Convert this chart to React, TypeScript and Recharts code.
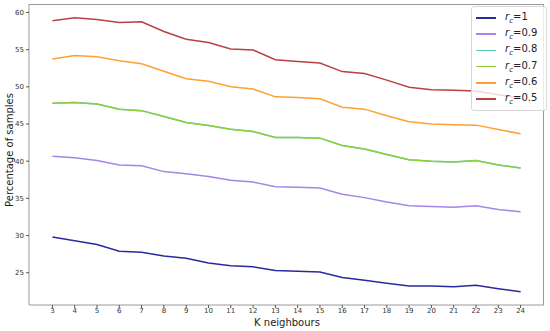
import { LineChart, Line, XAxis, YAxis } from 'recharts';

// K neighbours on the x axis
const kValues = [3, 4, 5, 6, 7, 8, 9, 10, 11, 12, 13, 14, 15, 16, 17, 18, 19, 20, 21, 22, 23, 24];

const rc1 = [29.8, 29.3, 28.8, 27.9, 27.75, 27.25, 26.95, 26.3, 25.95, 25.8, 25.3, 25.2, 25.1, 24.35, 24.0, 23.6, 23.2, 23.2, 23.1, 23.3, 22.85, 22.45];
const rc09 = [40.65, 40.45, 40.1, 39.5, 39.4, 38.6, 38.3, 37.95, 37.45, 37.2, 36.55, 36.5, 36.4, 35.55, 35.1, 34.5, 34.0, 33.9, 33.8, 34.0, 33.5, 33.2];
const rc08 = [47.8, 47.9, 47.7, 47.0, 46.8, 46.0, 45.2, 44.8, 44.3, 44.0, 43.2, 43.2, 43.1, 42.1, 41.65, 40.9, 40.2, 40.0, 39.9, 40.1, 39.5, 39.1];
const rc07 = [47.8, 47.9, 47.7, 47.0, 46.8, 46.0, 45.2, 44.8, 44.3, 44.0, 43.2, 43.2, 43.1, 42.1, 41.65, 40.9, 40.2, 40.0, 39.9, 40.1, 39.5, 39.1];
const rc06 = [53.75, 54.2, 54.05, 53.5, 53.1, 52.1, 51.1, 50.75, 50.0, 49.7, 48.65, 48.55, 48.4, 47.25, 47.0, 46.1, 45.3, 45.0, 44.9, 44.85, 44.25, 43.7];
const rc05 = [58.9, 59.3, 59.05, 58.65, 58.75, 57.45, 56.4, 55.95, 55.1, 54.95, 53.65, 53.4, 53.2, 52.05, 51.8, 50.9, 49.95, 49.6, 49.55, 49.45, 48.95, 48.5];

const xTicks = kValues;
const yTicks = [25, 30, 35, 40, 45, 50, 55, 60];

const seriesMeta = [
  { key: 'rc1', label: '1', color: '#2a2a9c', values: rc1 },
  { key: 'rc09', label: '0.9', color: '#a585ea', values: rc09 },
  { key: 'rc08', label: '0.8', color: '#5ccdc6', values: rc08 },
  { key: 'rc07', label: '0.7', color: '#8fcf3c', values: rc07 },
  { key: 'rc06', label: '0.6', color: '#ffa032', values: rc06 },
  { key: 'rc05', label: '0.5', color: '#b9413f', values: rc05 },
];

const data = kValues.map((k, i) => {
  const row: Record<string, number> = { k };
  seriesMeta.forEach((s) => {
    row[s.key] = s.values[i];
  });
  return row;
});

const font = 'DejaVu Sans, sans-serif';
const frame = '#9a9a9a';

function LegendBox() {
  return (
    <div
      style={{
        position: 'absolute',
        left: 471,
        top: 6,
        width: 74,
        padding: '3px 0',
        background: 'rgba(255,255,255,0.8)',
        border: '1px solid #d8d8d8',
        borderRadius: 3,
        fontFamily: font,
        fontSize: 10,
        color: '#222',
      }}
    >
      {seriesMeta.map((s) => (
        <div key={s.key} style={{ display: 'flex', alignItems: 'center', height: 16.2 }}>
          <span style={{ display: 'inline-block', width: 20, height: 1.6, background: s.color, marginLeft: 4, marginRight: 9 }} />
          <span>
            <i>r</i>
            <sub style={{ fontSize: 7, fontStyle: 'italic' }}>c</sub>
            {'='}
            {s.label}
          </span>
        </div>
      ))}
    </div>
  );
}

export default function App() {
  return (
    <div style={{ position: 'absolute', left: 0, top: 0, width: 550, height: 331, background: '#fff' }}>
      <LineChart width={550} height={331} data={data} margin={{ top: 4, right: 6, bottom: 0, left: 8 }}>
        <XAxis
          dataKey="k"
          type="number"
          domain={[1.95, 25.05]}
          ticks={xTicks}
          allowDataOverflow
          height={26}
          tick={{ fill: '#333', fontSize: 7, fontFamily: font, dy: -2 }}
          tickLine={{ stroke: '#555' }}
          tickSize={3}
          axisLine={{ stroke: frame }}
          interval={0}
        />
        <YAxis
          type="number"
          domain={[20.66, 61.14]}
          ticks={yTicks}
          allowDataOverflow
          width={21}
          tick={{ fill: '#333', fontSize: 7, fontFamily: font }}
          tickLine={{ stroke: '#555' }}
          tickSize={3}
          axisLine={{ stroke: frame }}
          interval={0}
        />
        {seriesMeta.map((s) => (
          <Line
            key={s.key}
            type="linear"
            dataKey={s.key}
            stroke={s.color}
            strokeWidth={1.5}
            dot={false}
            isAnimationActive={false}
          />
        ))}
      </LineChart>
      {/* top and right spines */}
      <div
        style={{
          position: 'absolute',
          left: 29,
          top: 4,
          width: 515,
          height: 301,
          borderTop: `1px solid ${frame}`,
          borderRight: `1px solid ${frame}`,
          boxSizing: 'border-box',
          pointerEvents: 'none',
        }}
      />
      <LegendBox />
      <div
        style={{
          position: 'absolute',
          left: 9,
          top: 150,
          transform: 'translate(-50%, -50%) rotate(-90deg)',
          whiteSpace: 'nowrap',
          fontFamily: font,
          fontSize: 10,
          color: '#222',
        }}
      >
        Percentage of samples
      </div>
      <div
        style={{
          position: 'absolute',
          left: 287,
          top: 322,
          transform: 'translate(-50%, -50%)',
          whiteSpace: 'nowrap',
          fontFamily: font,
          fontSize: 10,
          color: '#222',
        }}
      >
        K neighbours
      </div>
    </div>
  );
}
